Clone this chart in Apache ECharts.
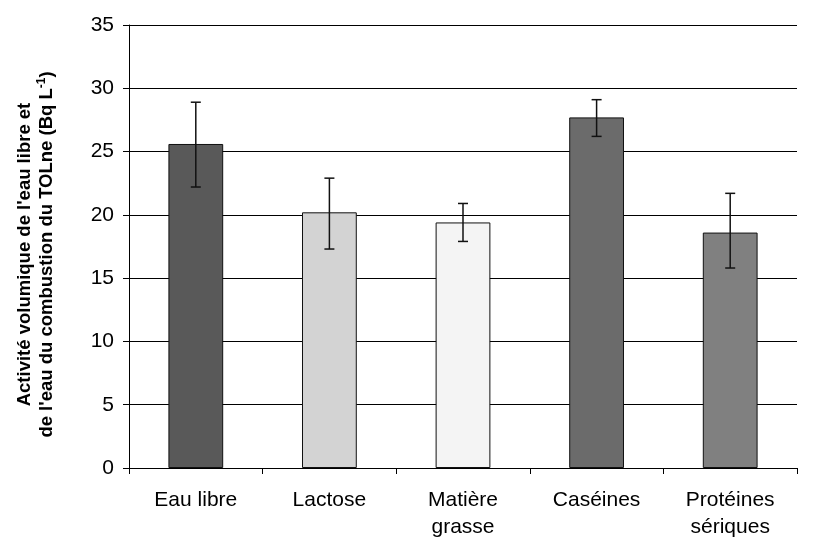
<!DOCTYPE html>
<html>
<head>
<meta charset="utf-8">
<script src="https://cdn.jsdelivr.net/npm/echarts@6/dist/echarts.min.js"></script>
<style>
  html, body { margin: 0; padding: 0; background: #fff; }
  #chart { width: 823px; height: 543px; }
</style>
</head>
<body>
<div id="chart"></div>
<script>
// données
const categories = ['Eau libre', 'Lactose', 'Matière\ngrasse', 'Caséines', 'Protéines\nsériques']
const values = [25.6, 20.2, 19.4, 27.7, 18.6]
const errLow = [22.2, 17.3, 17.9, 26.2, 15.8]
const errHigh = [28.9, 22.9, 20.9, 29.1, 21.7]
const barColors = ['#595959', '#d3d3d3', '#f4f4f4', '#6b6b6b', '#808080']
const yTicks = [0, 5, 10, 15, 20, 25, 30, 35]

const chart = echarts.init(document.getElementById('chart'))

const errData = categories.map((c, i) => [i, errLow[i], errHigh[i]])

chart.setOption({
  animation: false,
  textStyle: { fontFamily: 'Liberation Sans, Arial, sans-serif' },
  grid: { left: 129, right: 26, top: 25, bottom: 75 },
  xAxis: {
    type: 'category',
    data: categories,
    axisLine: { lineStyle: { color: '#000', width: 1 } },
    axisTick: { show: true, length: 6, lineStyle: { color: '#000' } },
    axisLabel: { color: '#000', fontSize: 21, margin: 19, lineHeight: 27 }
  },
  yAxis: {
    type: 'value',
    min: yTicks[0],
    max: yTicks[yTicks.length - 1],
    interval: 5,
    name: "Activité volumique de l'eau libre et\nde l'eau du combustion du TOLne (Bq L{sup|-1})",
    nameLocation: 'middle',
    nameRotate: 90,
    nameGap: 71,
    nameTextStyle: {
      fontSize: 18.5,
      fontWeight: 'bold',
      color: '#000',
      lineHeight: 22,
      // décalage vers le bas comme sur l'original
      padding: [0, 16, 0, 0],
      rich: {
        sup: { fontSize: 12, fontWeight: 'bold', verticalAlign: 'top', lineHeight: 22, padding: [0, 0, 10, 0] }
      }
    },
    axisLine: { show: true, lineStyle: { color: '#000', width: 1 } },
    axisTick: { show: true, length: 6, lineStyle: { color: '#000' } },
    axisLabel: { color: '#000', fontSize: 21, margin: 15 },
    splitLine: { show: true, lineStyle: { color: '#000', width: 1 } }
  },
  series: [
    {
      type: 'bar',
      barWidth: '41%',
      data: values.map((v, i) => ({
        value: v,
        itemStyle: { color: barColors[i], borderColor: '#111', borderWidth: 1 }
      }))
    },
    {
      type: 'custom',
      data: errData,
      z: 10,
      renderItem: function (params, api) {
        const x = api.value(0)
        const lo = api.coord([x, api.value(1)])
        const hi = api.coord([x, api.value(2)])
        const cap = 5
        const style = { stroke: '#111', lineWidth: 1.5 }
        return {
          type: 'group',
          children: [
            { type: 'line', shape: { x1: hi[0], y1: hi[1], x2: lo[0], y2: lo[1] }, style: style },
            { type: 'line', shape: { x1: hi[0] - cap, y1: hi[1], x2: hi[0] + cap, y2: hi[1] }, style: style },
            { type: 'line', shape: { x1: lo[0] - cap, y1: lo[1], x2: lo[0] + cap, y2: lo[1] }, style: style }
          ]
        }
      }
    }
  ]
})
</script>
</body>
</html>
